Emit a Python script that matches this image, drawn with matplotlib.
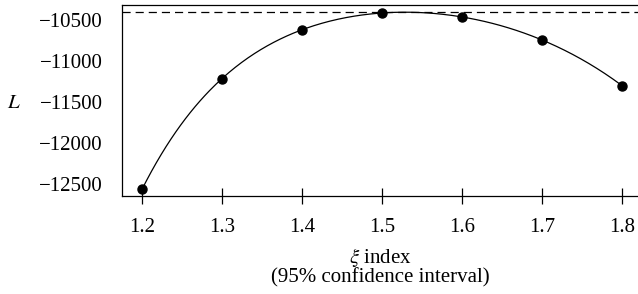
import numpy as np
import matplotlib.pyplot as plt

plt.rcParams['font.family'] = ['Liberation Serif', 'DejaVu Serif']
plt.rcParams['mathtext.fontset'] = 'stix'

xi = [1.2, 1.3, 1.4, 1.5, 1.6, 1.7, 1.8]
L_vals = [-12565, -11216, -10622, -10418, -10467, -10748, -11305]
L_ref = -10402

fig = plt.figure(figsize=(6.38, 2.94), dpi=100)
ax = fig.add_axes([122 / 638, 1 - 196 / 294, 1 - 122 / 638, (196 - 5) / 294])

# smooth curve through the points
coef = np.polyfit(xi, L_vals, 6)
xs = np.linspace(xi[0], xi[-1], 300)
ax.plot(xs, np.polyval(coef, xs), color='black', lw=0.9)
ax.plot(xi, L_vals, 'o', color='black', ms=6.5)
ax.axhline(L_ref, color='black', lw=0.9, ls=(0, (6.5, 4)))

ax.set_xlim(1.175, 1.8196)
ax.set_ylim(-12646, -10321)
ax.set_xticks(xi)
ax.set_xticklabels([f'{v:.1f}' for v in xi])
ax.set_yticks([-12500, -12000, -11500, -11000, -10500])
ax.set_yticklabels(['\u221212500', '\u221212000', '\u221211500', '\u221211000', '\u221210500'])
ax.tick_params(axis='x', direction='inout', length=12, width=0.9, labelsize=15, pad=9.5)
ax.tick_params(axis='y', length=0, labelsize=15, pad=14)
ax.spines['right'].set_visible(False)
for s in ['left', 'top', 'bottom']:
    ax.spines[s].set_linewidth(0.9)

ax.set_xlabel('$\\xi$ index\n(95% confidence interval)', fontsize=15, linespacing=1.0, labelpad=6.5)
fig.text(14 / 638, 1 - 103 / 294, '$L$', fontsize=15, ha='center', va='center')

fig.savefig('out.png', dpi=100)
